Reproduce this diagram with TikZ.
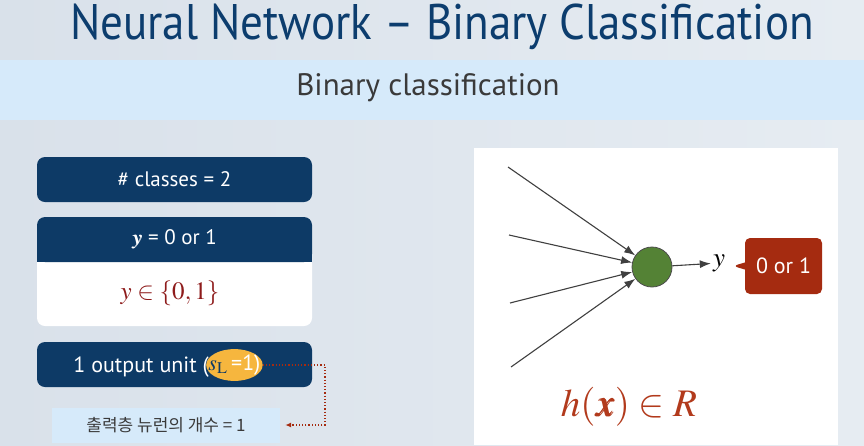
\documentclass[tikz,border=0pt]{standalone}
\usepackage{mathptmx}
\usepackage{bm}
\usepackage{fontspec}
\setmainfont{PT Sans}
\newfontfamily\titlefont[FakeStretch=0.9]{PT Sans}
\newfontfamily\krfont{Noto Sans CJK KR}
\usetikzlibrary{arrows.meta, positioning, shapes.geometric, shapes.callouts}

\definecolor{bgleft}{HTML}{D9E1EA}
\definecolor{bgright}{HTML}{E6ECF2}
\definecolor{titleblue}{HTML}{0C3D6E}
\definecolor{bandblue}{HTML}{D6EAFA}
\definecolor{boxblue}{HTML}{0D3A66}
\definecolor{setred}{HTML}{8E1B1B}
\definecolor{hiyellow}{HTML}{F6B63E}
\definecolor{neurongreen}{HTML}{548235}
\definecolor{calloutred}{HTML}{A52B10}
\definecolor{hred}{HTML}{B23A1C}
\definecolor{textgray}{HTML}{3A3A3A}

\begin{document}
\begin{tikzpicture}[x=1pt, y=-1pt,
    box/.style={rectangle, rounded corners=8pt, fill=boxblue, text=white, minimum width=275pt, minimum height=45pt, inner sep=0pt, font=\fontsize{21}{25}\selectfont},
    panel/.style={rectangle, fill=white, inner sep=0pt},
    arrow/.style={-{Latex[length=11pt, width=8pt]}, draw=black!75, line width=1.1pt}
]
\useasboundingbox (0,0) rectangle (864,445);
\shade[left color=bgleft, right color=bgright] (0,0) rectangle (864,445);
\fill[bandblue] (0,60) rectangle (864,120);

\node[font=\titlefont\fontsize{50}{56}\selectfont, text=titleblue] (title) at (442,27) {Neural Network – Binary Classification};
\node[font=\fontsize{31}{36}\selectfont, text=textgray] (subtitle) at (428,88) {Binary classification};

% left column
\node[box] (classes) at (174.5,179.5) {\# classes = 2};
\node[panel, rounded corners=8pt, minimum width=275pt, minimum height=109pt] (setbox) at (174.5,271.5) {};
\node[box] (labels) at (174.5,239.5) {$\bm{y}$ = 0 or 1};
\fill[boxblue] (labels.south west) rectangle ++(275,-10);
\node[text=setred, font=\fontsize{25}{30}\selectfont] (setexpr) at (170,293) {$y\in\{0,1\}$};

\node[box] (unit) at (174.5,364.5) {};
\node[anchor=base east, text=white, font=\fontsize{22}{26}\selectfont, inner sep=0pt] (unittext) at (209,372) {1 output unit (};
\node[ellipse, fill=hiyellow, inner xsep=-6pt, inner ysep=1pt, minimum width=56pt, minimum height=27pt, text=white, font=\fontsize{22}{26}\selectfont, anchor=west] (sl) at (206,365) {\textcolor{boxblue}{$s_{\mathrm{L}}$}\,=1)};
\node[fill=bandblue, minimum width=228pt, minimum height=35pt, inner sep=0pt, text=textgray, font=\krfont\fontsize{17}{20}\selectfont] (hint) at (166,425) {출력층 뉴런의 개수 = 1};
\draw[calloutred, dotted, line width=1.2pt, -{Latex[length=6pt, width=5pt]}, shorten >=5pt] (sl.east) -- (325,365) |- (hint.east);

% right panel
\node[panel, minimum width=364pt, minimum height=297pt] (frame) at (656,296.5) {};
\node[circle, fill=neurongreen, draw=black!70, line width=0.8pt, minimum size=40pt, inner sep=0pt] (neuron) at (652,267) {};
\foreach \i/\x/\y in {1/508/167, 2/509/235, 3/510/303, 4/511/367} {
  \coordinate (in\i) at (\x,\y);
  \draw[arrow] (in\i) -- (neuron);
}
\node[font=\fontsize{27}{30}\selectfont, inner sep=2pt] (yout) at (719,263) {$y$};
\draw[arrow] (neuron) -- (yout);
\coordinate (tip) at (733,266);
\node[rectangle callout, callout absolute pointer={(tip)}, fill=calloutred, text=white, rounded corners=5pt, minimum width=77pt, minimum height=56pt, font=\fontsize{22}{26}\selectfont] (answer) at (783.5,266) {0 or 1};
\node[text=hred, font=\fontsize{39}{45}\selectfont] (hx) at (629,407) {$h(\bm{x})\in R$};
\end{tikzpicture}
\end{document}
